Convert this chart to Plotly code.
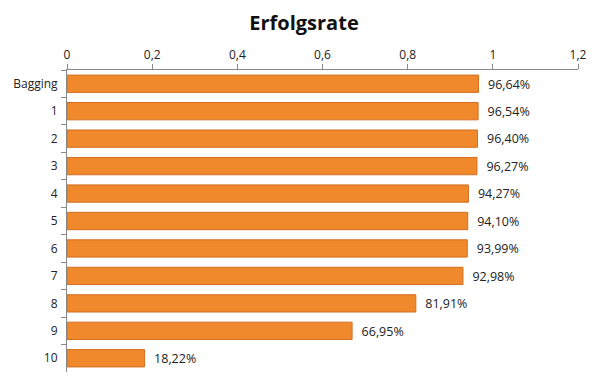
import plotly.graph_objects as go

categories = ["Bagging", "1", "2", "3", "4", "5", "6", "7", "8", "9", "10"]
values = [0.9664, 0.9654, 0.9640, 0.9627, 0.9427, 0.9410, 0.9399, 0.9298, 0.8191, 0.6695, 0.1822]
x_ticks = [0, 0.2, 0.4, 0.6, 0.8, 1.0, 1.2]
x_tick_labels = ["0", "0,2", "0,4", "0,6", "0,8", "1", "1,2"]

labels = ["  " + f"{v*100:.2f}".replace(".", ",") + "%" for v in values]

fig = go.Figure()
fig.add_trace(go.Bar(
    y=categories, x=values, orientation="h",
    marker=dict(color="#F0882C", line=dict(color="#D46E20", width=1)),
    text=labels, textposition="outside", cliponaxis=False,
    textfont=dict(family="Open Sans", size=13, color="#222222"),
    hoverinfo="skip",
))

fig.update_layout(
    width=592, height=372,
    margin=dict(l=59, r=22, t=62, b=8),
    paper_bgcolor="white", plot_bgcolor="white",
    title=dict(text="<b>Erfolgsrate</b>", x=0.5, xanchor="center", y=0.96, yanchor="middle",
               font=dict(family="Open Sans", size=20, color="#111111")),
    bargap=0.37,
    showlegend=False,
    separators=",.",
)
fig.update_xaxes(
    side="top", range=[0, 1.2], tickvals=x_ticks, ticktext=x_tick_labels, automargin=False,
    showgrid=False, zeroline=False, showline=True, linecolor="#888888", linewidth=1,
    ticks="outside", ticklen=5, tickcolor="#888888",
    tickfont=dict(family="Open Sans", size=12, color="#222222"),
)
fig.update_yaxes(
    categoryorder="array", categoryarray=categories, autorange="reversed", automargin=False,
    showgrid=False, zeroline=False, showline=True, linecolor="#888888", linewidth=1,
    ticks="outside", ticklen=5, tickcolor="#888888", tickson="boundaries",
    ticklabelstandoff=6,
    tickfont=dict(family="Open Sans", size=12, color="#222222"),
)

fig.write_html("out.html")
